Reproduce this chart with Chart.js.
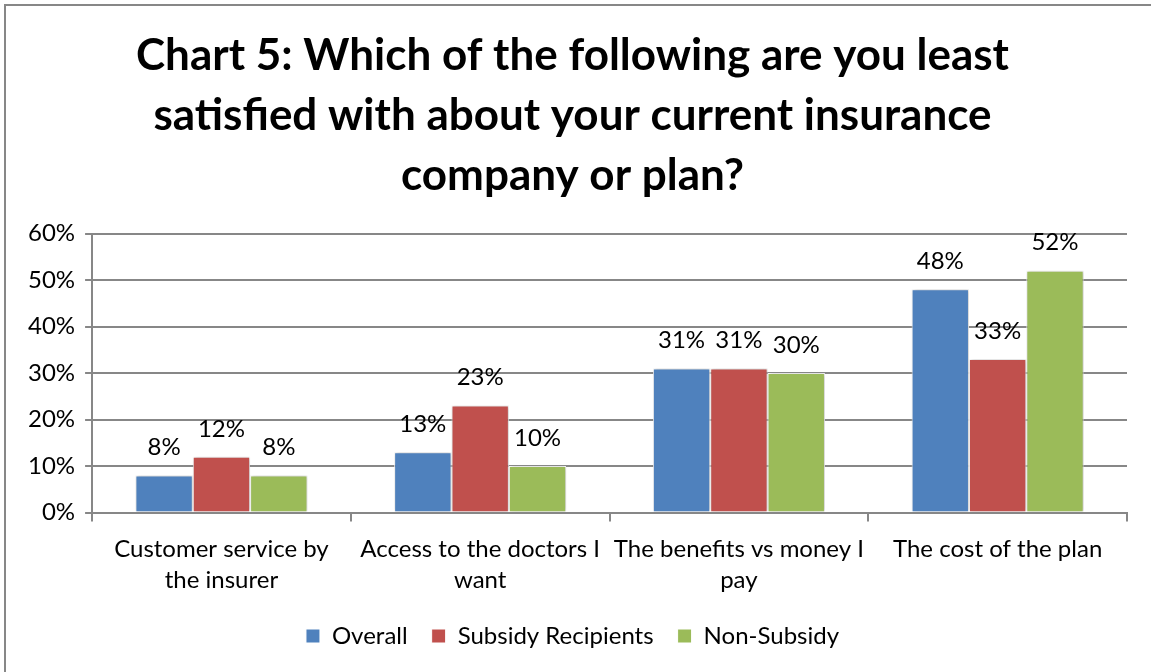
<!DOCTYPE html>
<html>
<head>
<meta charset="utf-8">
<script src="https://cdn.jsdelivr.net/npm/chart.js@4.4.1/dist/chart.umd.min.js"></script>
<style>
  html, body { margin: 0; padding: 0; background: #fff; overflow: hidden; }
  #wrap { position: absolute; left: 0; top: 0; width: 1151px; height: 672px; }
  #frame { position: absolute; left: 4px; top: 4px; width: 1200px; height: 720px; border: 2px solid #878787; box-sizing: border-box; }
</style>
</head>
<body>
<div id="frame"></div>
<div id="wrap"><canvas id="myChart" width="1151" height="672"></canvas></div>
<script>
var categories = [
  ["Customer service by", "the insurer"],
  ["Access to the doctors I", "want"],
  ["The benefits vs money I", "pay"],
  ["The cost of the plan"]
];
var overall = [8, 13, 31, 48];
var subsidy = [12, 23, 31, 33];
var nonSubsidy = [8, 10, 30, 52];
var titleLines = [
  "Chart 5: Which of the following are you least",
  "satisfied with about your current insurance",
  "company or plan?"
];

var fontFam = "Lato, 'Open Sans', sans-serif";

// value labels above each bar
var barLabels = {
  id: 'barLabels',
  afterDatasetsDraw: function(chart){
    var ctx = chart.ctx;
    ctx.save();
    ctx.font = "24px " + fontFam;
    ctx.fillStyle = "#000";
    ctx.textAlign = "center";
    ctx.textBaseline = "middle";
    chart.data.datasets.forEach(function(ds, i){
      chart.getDatasetMeta(i).data.forEach(function(bar, j){
        ctx.fillText(ds.data[j] + "%", bar.x, bar.y - 28);
      });
    });
    ctx.restore();
  }
};

// soft shadow behind the bars
var barShadow = {
  id: 'barShadow',
  beforeDatasetsDraw: function(chart){
    chart.ctx.save();
    chart.ctx.shadowColor = "rgba(0,0,0,0.25)";
    chart.ctx.shadowBlur = 4;
    chart.ctx.shadowOffsetX = 1;
    chart.ctx.shadowOffsetY = 0;
  },
  afterDatasetsDraw: function(chart){
    chart.ctx.restore();
  }
};

function makeDataset(label, values, color){
  return {
    label: label,
    data: values,
    backgroundColor: color,
    borderColor: "#ffffff",
    borderWidth: 1,
    categoryPercentage: 0.665,
    barPercentage: 1.0
  };
}

var config = {
  type: 'bar',
  data: {
    labels: categories,
    datasets: [
      makeDataset("Overall", overall, "#4F81BD"),
      makeDataset("Subsidy Recipients", subsidy, "#C0504D"),
      makeDataset("Non-Subsidy", nonSubsidy, "#9BBB59")
    ]
  },
  options: {
    responsive: false,
    animation: false,
    layout: { padding: { left: 18, right: 24, top: 0, bottom: 14 } },
    plugins: {
      title: {
        display: true,
        text: titleLines,
        color: "#000",
        font: { family: fontFam, size: 44, weight: 'bold', lineHeight: 1.36 },
        padding: { top: 26, bottom: 28 }
      },
      legend: {
        position: 'bottom',
        labels: {
          color: "#000",
          font: { family: fontFam, size: 24 },
          boxWidth: 14,
          boxHeight: 14,
          padding: 24
        }
      },
      tooltip: { enabled: false }
    },
    scales: {
      x: {
        // let the category labels sit closer to the legend
        afterFit: function(scale){ scale.height -= 8; },
        grid: {
          offset: true,
          drawOnChartArea: false,
          drawTicks: true,
          tickLength: 9,
          color: "#878787",
          lineWidth: 2
        },
        border: { color: "#878787", width: 2 },
        ticks: {
          color: "#000",
          font: { family: fontFam, size: 24, lineHeight: 1.3 },
          maxRotation: 0,
          padding: 12
        }
      },
      y: {
        min: 0,
        max: 60,
        grid: { color: "#878787", lineWidth: 2, tickLength: 7 },
        border: { color: "#878787", width: 2 },
        ticks: {
          stepSize: 10,
          color: "#000",
          font: { family: fontFam, size: 24 },
          padding: 10,
          callback: function(v){ return v + "%"; }
        }
      }
    }
  },
  plugins: [barShadow, barLabels]
};

new Chart(document.getElementById("myChart"), config);
</script>
</body>
</html>
